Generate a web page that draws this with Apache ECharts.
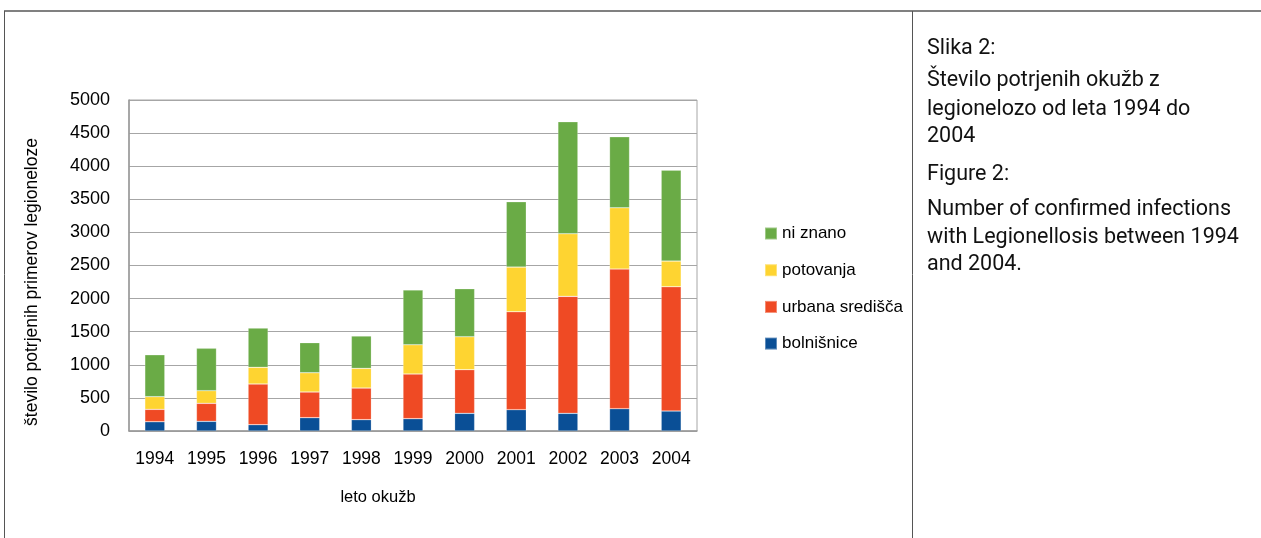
<!DOCTYPE html>
<html>
<head>
<meta charset="utf-8">
<script src="https://cdn.jsdelivr.net/npm/echarts@6/dist/echarts.min.js"></script>
<style>
  html, body { margin: 0; padding: 0; background: #fff; }
  #charts { width: 1261px; height: 538px; }
</style>
</head>
<body>
<div id="charts"></div>
<script>
  // podatki
  let years = ["1994", "1995", "1996", "1997", "1998", "1999", "2000", "2001", "2002", "2003", "2004"];
  let bolnisnice = [140, 146, 95, 201, 171, 186, 267, 322, 267, 337, 302];
  let urbana = [187, 272, 615, 388, 478, 675, 659, 1479, 1767, 2109, 1877];
  let potovanja = [191, 191, 252, 291, 297, 442, 498, 675, 945, 926, 388];
  let niZnano = [634, 640, 593, 454, 489, 826, 725, 987, 1692, 1072, 1374];
  let yTicks = [0, 500, 1000, 1500, 2000, 2500, 3000, 3500, 4000, 4500, 5000];

  let captionLines = [
    "Slika 2:",
    "Število potrjenih okužb z",
    "legionelozo od leta 1994 do",
    "2004",
    "Figure 2:",
    "Number of confirmed infections",
    "with Legionellosis between 1994",
    "and 2004."
  ];
  let captionY = [38, 70, 99, 126, 164, 199, 227, 254];

  let colors = ["#0a4f96", "#ef4a24", "#fed431", "#6aab46"];
  let font = "'Liberation Sans', Arial, sans-serif";

  let chartDom = document.getElementById("charts");
  let myChart = echarts.init(chartDom);

  function barSeries(name, data, color) {
    return {
      name: name,
      type: "bar",
      stack: "Total",
      barWidth: 20,
      data: data,
      itemStyle: { color: color, borderColor: "rgba(255,255,255,0.35)", borderWidth: 0.6 },
    };
  }

  let graphics = [
    { type: "line", shape: { x1: 4, y1: 11, x2: 1261, y2: 11 }, style: { stroke: "#808080", lineWidth: 2 } },
    { type: "line", shape: { x1: 4.5, y1: 11, x2: 4.5, y2: 538 }, style: { stroke: "#555", lineWidth: 1 } },
    { type: "line", shape: { x1: 912.5, y1: 11, x2: 912.5, y2: 538 }, style: { stroke: "#555", lineWidth: 1 } },
    // naslov osi y
    {
      type: "text",
      x: 32,
      y: 282,
      rotation: Math.PI / 2,
      style: {
        text: "število potrjenih primerov legioneloze",
        fill: "#000",
        font: "17.5px " + font,
        align: "center",
        verticalAlign: "middle",
      },
    },
    // naslov osi x
    {
      type: "text",
      x: 378,
      y: 497,
      style: {
        text: "leto okužb",
        fill: "#000",
        font: "16.5px " + font,
        align: "center",
        verticalAlign: "middle",
      },
    },
  ];
  captionLines.forEach(function (t, i) {
    graphics.push({
      type: "text",
      left: 927,
      top: captionY[i],
      style: { text: t, fill: "#111", font: "21.5px 'Roboto', sans-serif" },
    });
  });

  let option = {
    animation: false,
    backgroundColor: "#fff",
    textStyle: { fontFamily: font },
    grid: {
      left: 129,
      right: 1261 - 697,
      top: 100,
      bottom: 538 - 431,
      show: true,
      borderColor: "#a6a6a6",
      borderWidth: 1,
    },
    legend: {
      orient: "vertical",
      left: 759,
      top: 220,
      itemWidth: 12,
      itemHeight: 12,
      itemGap: 19.7,
      icon: "rect",
      data: ["ni znano", "potovanja", "urbana središča", "bolnišnice"],
      textStyle: { fontSize: 17, lineHeight: 17, color: "#000", fontFamily: font },
    },
    xAxis: {
      type: "category",
      data: years,
      axisLine: { lineStyle: { color: "#999", width: 1.5 } },
      axisTick: { show: false },
      axisLabel: { fontSize: 17.5, color: "#000", margin: 19, interval: 0 },
    },
    yAxis: {
      type: "value",
      min: yTicks[0],
      max: yTicks[yTicks.length - 1],
      interval: 500,
      axisLine: { show: true, lineStyle: { color: "#999", width: 1.5 } },
      axisTick: { show: false },
      axisLabel: {
        fontSize: 18,
        color: "#000",
        margin: 19,
        formatter: function (v) {
          return String(v);
        },
      },
      splitLine: { lineStyle: { color: "#a6a6a6", width: 1.2 } },
    },
    graphic: graphics,
    series: [
      barSeries("bolnišnice", bolnisnice, colors[0]),
      barSeries("urbana središča", urbana, colors[1]),
      barSeries("potovanja", potovanja, colors[2]),
      barSeries("ni znano", niZnano, colors[3]),
    ],
  };

  option && myChart.setOption(option);
</script>
</body>
</html>
